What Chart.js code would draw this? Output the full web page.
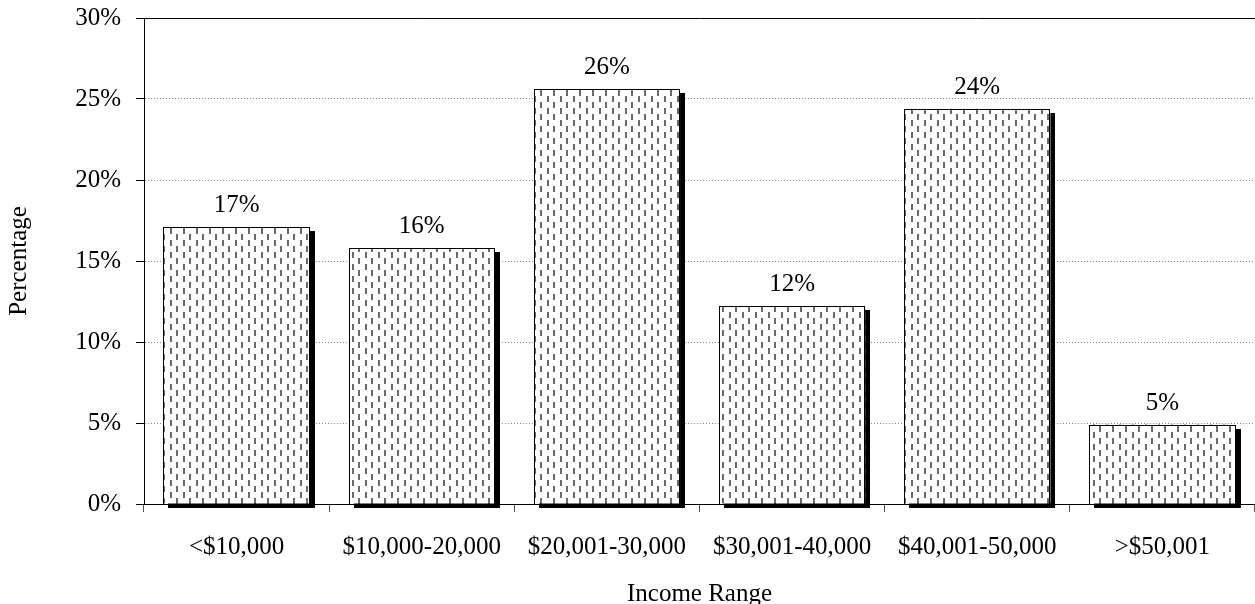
<!DOCTYPE html>
<html>
<head>
<meta charset="utf-8">
<title>Income Range</title>
<script src="https://cdn.jsdelivr.net/npm/chart.js@4/dist/chart.umd.min.js"></script>
<style>
  html, body { margin: 0; padding: 0; background: #fff; }
  #wrap { width: 1255px; height: 604px; position: relative; }
</style>
</head>
<body>
<div id="wrap"><canvas id="chart"></canvas></div>
<script>
/* ── Data ── */
const incomeRanges = ['<$10,000', '$10,000-20,000', '$20,001-30,000', '$30,001-40,000', '$40,001-50,000', '>$50,001'];
const sharePct     = [17.1, 15.8, 25.6, 12.2, 24.4, 4.9];
const yTicks       = [0, 5, 10, 15, 20, 25, 30];

const FONT = '"Liberation Serif", "DejaVu Serif", serif';

/* ── Hatch fill: staggered short vertical dashes ── */
function dashPattern() {
  const c = document.createElement('canvas');
  c.width = 13; c.height = 12;
  const g = c.getContext('2d');
  g.fillStyle = '#fff'; g.fillRect(0, 0, 13, 12);
  g.fillStyle = '#6a6a6a';
  g.fillRect(1, 0, 2, 6);
  g.fillRect(7, 6, 2, 6);
  return g.createPattern(c, 'repeat');
}

function barBox(bar) {
  const p = bar.getProps(['x', 'y', 'base', 'width'], true);
  const l = Math.round(p.x - p.width / 2), r = Math.round(p.x + p.width / 2);
  const t = Math.round(p.y), b = Math.round(p.base);
  return { l, r, t, b };
}

/* ── Plugins ── */
// solid black block behind each bar, pushed right and down
const barShadow = {
  id: 'barShadow',
  beforeDatasetsDraw(chart) {
    const ctx = chart.ctx;
    ctx.save();
    ctx.fillStyle = '#000';
    chart.getDatasetMeta(0).data.forEach(bar => {
      const q = barBox(bar);
      ctx.fillRect(q.l + 5, q.t + 4, q.r - q.l, q.b - q.t);
    });
    ctx.restore();
  },
  // crisp 1px outline on top of the hatch
  afterDatasetsDraw(chart) {
    const ctx = chart.ctx;
    ctx.save();
    ctx.setLineDash([]);
    ctx.strokeStyle = '#000';
    ctx.lineWidth = 1;
    chart.getDatasetMeta(0).data.forEach(bar => {
      const q = barBox(bar);
      ctx.strokeRect(q.l + 0.5, q.t + 0.5, q.r - q.l - 1, q.b - q.t);
    });
    ctx.restore();
  }
};

// solid frame line along the top of the plot
const topLine = {
  id: 'topLine',
  afterDraw(chart) {
    const { ctx, chartArea: a } = chart;
    ctx.save();
    ctx.setLineDash([]);
    ctx.strokeStyle = '#000'; ctx.lineWidth = 1;
    ctx.beginPath();
    ctx.moveTo(a.left, Math.round(a.top) + 0.5);
    ctx.lineTo(a.right, Math.round(a.top) + 0.5);
    ctx.stroke();
    ctx.restore();
  }
};

// rounded percentage above each bar
const valueLabels = {
  id: 'valueLabels',
  afterDatasetsDraw(chart) {
    const { ctx } = chart;
    const meta = chart.getDatasetMeta(0);
    ctx.save();
    ctx.font = '25px ' + FONT;
    ctx.fillStyle = '#000';
    ctx.textAlign = 'center';
    ctx.textBaseline = 'bottom';
    meta.data.forEach((bar, i) => {
      ctx.fillText(Math.round(sharePct[i]) + '%', bar.x, bar.y - 9);
    });
    ctx.restore();
  }
};

/* ── Chart ── */
new Chart(document.getElementById('chart'), {
  type: 'bar',
  data: {
    labels: incomeRanges,
    datasets: [{
      data: sharePct,
      backgroundColor: dashPattern(),
      borderWidth: 0,
      categoryPercentage: 1,
      barPercentage: 0.79,
      clip: false
    }]
  },
  options: {
    responsive: true,
    maintainAspectRatio: false,
    animation: false,
    devicePixelRatio: 1,
    layout: { padding: { top: 18, right: 0, left: 0, bottom: 0 } },
    plugins: { legend: { display: false }, tooltip: { enabled: false } },
    scales: {
      x: {
        afterFit(s) { s.height = 100; },
        grid: { drawOnChartArea: false, drawTicks: true, tickLength: 8, tickColor: '#555', offset: true },
        border: { color: '#000', width: 1 },
        ticks: { color: '#000', padding: 20, maxRotation: 0, autoSkip: false, font: { family: FONT, size: 25 } },
        title: { display: true, text: 'Income Range', color: '#000', padding: { top: 0, bottom: -5 }, font: { family: FONT, size: 25 } }
      },
      y: {
        min: 0, max: 30,
        afterFit(s) { s.width = 144; s.paddingTop = 0; s.paddingBottom = 0; },
        afterBuildTicks(s) { s.ticks = yTicks.map(v => ({ value: v })); },
        grid: { color: '#8a8a8a', lineWidth: 1, tickColor: '#000', tickLength: 8 },
        border: { color: '#000', width: 1, dash: [1, 2] },
        ticks: { color: '#000', padding: 15, font: { family: FONT, size: 25 }, callback: v => v + '%' },
        title: { display: true, text: 'Percentage', color: '#000', padding: { top: 4, bottom: 0 }, font: { family: FONT, size: 25 } }
      }
    }
  },
  plugins: [barShadow, topLine, valueLabels]
});
</script>
</body>
</html>
